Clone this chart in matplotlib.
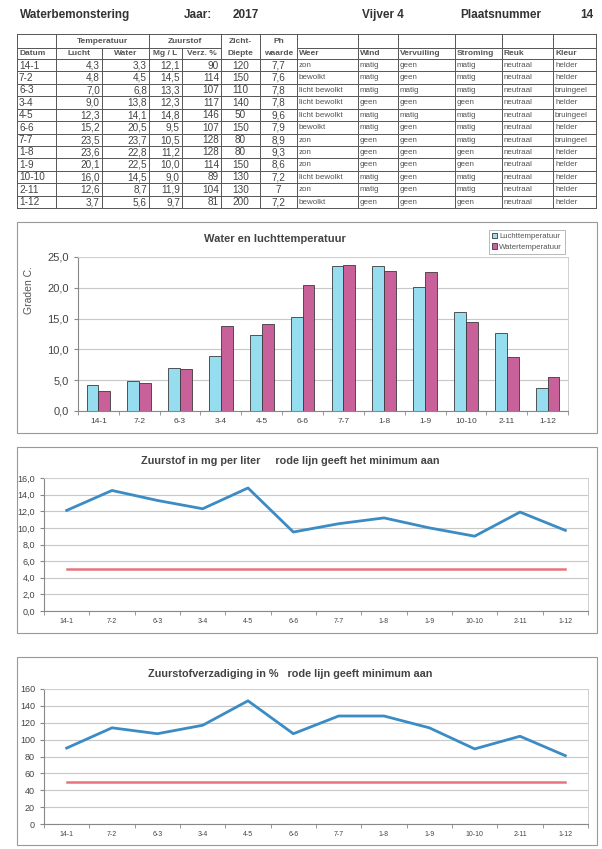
import matplotlib
matplotlib.use("Agg")
import matplotlib.pyplot as plt
from matplotlib.patches import Rectangle
from matplotlib.ticker import FuncFormatter, FixedLocator

plt.rcParams['font.family'] = ['Liberation Sans', 'DejaVu Sans']

# ---------------- data ----------------
dates = ["14-1", "7-2", "6-3", "3-4", "4-5", "6-6", "7-7", "1-8", "1-9", "10-10", "2-11", "1-12"]
lucht = [4.3, 4.8, 7.0, 9.0, 12.3, 15.2, 23.5, 23.6, 20.1, 16.0, 12.6, 3.7]
water = [3.3, 4.5, 6.8, 13.8, 14.1, 20.5, 23.7, 22.8, 22.5, 14.5, 8.7, 5.6]
mg_l = [12.1, 14.5, 13.3, 12.3, 14.8, 9.5, 10.5, 11.2, 10.0, 9.0, 11.9, 9.7]
verz = [90, 114, 107, 117, 146, 107, 128, 128, 114, 89, 104, 81]
zicht = [120, 150, 110, 140, 50, 150, 80, 80, 150, 130, 130, 200]
ph = ["7,7", "7,6", "7,8", "7,8", "9,6", "7,9", "8,9", "9,3", "8,6", "7,2", "7", "7,2"]
weer = ["zon", "bewolkt", "licht bewolkt", "licht bewolkt", "licht bewolkt", "bewolkt",
        "zon", "zon", "zon", "licht bewolkt", "zon", "bewolkt"]
wind = ["matig", "matig", "matig", "geen", "matig", "matig", "geen", "geen", "geen", "matig", "matig", "geen"]
vervuiling = ["geen", "geen", "matig", "geen", "matig", "geen", "geen", "geen", "geen", "geen", "geen", "geen"]
stroming = ["matig", "matig", "matig", "geen", "matig", "matig", "matig", "geen", "geen", "matig", "matig", "geen"]
reuk = ["neutraal"] * 12
kleur = ["helder", "helder", "bruingeel", "helder", "bruingeel", "helder", "bruingeel",
         "helder", "helder", "helder", "helder", "helder"]
min_mg = [5.0, 5.0, 5.0, 5.0, 5.0, 5.0, 5.0, 5.0, 5.0, 5.0, 5.0, 5.0]
min_verz = [50, 50, 50, 50, 50, 50, 50, 50, 50, 50, 50, 50]

# ---------------- figure ----------------
W, H = 602, 849
fig = plt.figure(figsize=(6.02, 8.49), dpi=100)
bg = fig.add_axes([0, 0, 1, 1])
bg.set_xlim(0, W)
bg.set_ylim(H, 0)
bg.axis('off')


def rect(x0, y0, x1, y1):
    return [x0 / W, 1 - y1 / H, (x1 - x0) / W, (y1 - y0) / H]


def comma(v, p=None):
    return f"{v:.1f}".replace('.', ',')


# header
hdr = [(20, "Waterbemonstering"), (184, "Jaar:"), (233, "2017"),
       (362, "Vijver 4"), (460, "Plaatsnummer"), (580, "14")]
for x, t in hdr:
    bg.text(x, 15, t, fontsize=8.5, fontweight='bold', color='#333', va='center', ha='left')

# ---------------- table ----------------
cols = [17, 56, 102, 149, 182, 221, 260, 297, 358, 398, 455, 502, 553, 596]
top, mid, hbot = 34, 48, 59
rh = 12.42
bottom = hbot + 12 * rh
lc = '#555'
lw = 0.7
bg.plot([cols[0], cols[-1]], [top, top], color=lc, lw=lw)
for xa, xb in [(cols[0], cols[5]), (cols[7], cols[-1])]:
    bg.plot([xa, xb], [mid, mid], color=lc, lw=lw)
for i in range(13):
    y = hbot + i * rh
    bg.plot([cols[0], cols[-1]], [y, y], color=lc, lw=lw)
for j, x in enumerate(cols):
    y0 = mid if j in (2, 4) else top
    bg.plot([x, x], [y0, bottom], color=lc, lw=lw)

hf = dict(fontsize=6, fontweight='bold', color='#555', va='center')
bg.text((cols[1] + cols[3]) / 2, 41, "Temperatuur", ha='center', **hf)
bg.text((cols[3] + cols[5]) / 2, 41, "Zuurstof", ha='center', **hf)
bg.text((cols[5] + cols[6]) / 2, 41, "Zicht-", ha='center', **hf)
bg.text((cols[6] + cols[7]) / 2, 41, "Ph", ha='center', **hf)
y2 = 53.5
bg.text(cols[0] + 2, y2, "Datum", ha='left', **hf)
bg.text((cols[1] + cols[2]) / 2, y2, "Lucht", ha='center', **hf)
bg.text((cols[2] + cols[3]) / 2, y2, "Water", ha='center', **hf)
bg.text((cols[3] + cols[4]) / 2, y2, "Mg / L", ha='center', **hf)
bg.text((cols[4] + cols[5]) / 2, y2, "Verz. %", ha='center', **hf)
bg.text((cols[5] + cols[6]) / 2, y2, "Diepte", ha='center', **hf)
bg.text((cols[6] + cols[7]) / 2, y2, "waarde", ha='center', **hf)
for j, t in zip(range(7, 13), ["Weer", "Wind", "Vervuiling", "Stroming", "Reuk", "Kleur"]):
    bg.text(cols[j] + 2, y2, t, ha='left', **hf)

nf = dict(fontsize=7.2, color='#444', va='center')
tf = dict(fontsize=5.8, color='#555', va='center', ha='left')
for i in range(12):
    y = hbot + (i + 0.5) * rh + 0.3
    bg.text(cols[0] + 2, y, dates[i], ha='left', **nf)
    bg.text(cols[2] - 2, y, comma(lucht[i]), ha='right', **nf)
    bg.text(cols[3] - 2, y, comma(water[i]), ha='right', **nf)
    bg.text(cols[4] - 2, y, comma(mg_l[i]), ha='right', **nf)
    bg.text(cols[5] - 2, y, str(verz[i]), ha='right', **nf)
    bg.text((cols[5] + cols[6]) / 2, y, str(zicht[i]), ha='center', **nf)
    bg.text((cols[6] + cols[7]) / 2, y, ph[i], ha='center', **nf)
    for j, arr in zip(range(7, 13), [weer, wind, vervuiling, stroming, reuk, kleur]):
        bg.text(cols[j] + 2, y, arr[i], **tf)

# chart frames
for (x0, y0, x1, y1) in [(17, 222, 597, 433), (17, 447, 597, 633), (17, 657, 597, 845)]:
    bg.add_patch(Rectangle((x0, y0), x1 - x0, y1 - y0, fill=False, edgecolor='#999', lw=0.8))

n = len(dates)
xs = list(range(n))


def style_axes(ax, xfs):
    ax.set_xlim(-0.5, n - 0.5)
    ax.set_xticks(xs)
    ax.set_xticklabels(dates, fontsize=xfs, color='#444')
    ax.xaxis.set_minor_locator(FixedLocator([k - 0.5 for k in range(n + 1)]))
    ax.tick_params(axis='x', which='major', length=0, pad=5)
    ax.tick_params(axis='x', which='minor', length=3, color='#888')
    ax.tick_params(axis='y', length=3, color='#888')
    ax.grid(axis='y', color='#c8c8c8', lw=0.8)
    ax.set_axisbelow(True)
    for s in ['top', 'right']:
        ax.spines[s].set_color('#cfcfcf')
        ax.spines[s].set_linewidth(0.7)
    for s in ['left', 'bottom']:
        ax.spines[s].set_color('#888')
        ax.spines[s].set_linewidth(0.8)


# ---------------- chart 1 ----------------
ax1 = fig.add_axes(rect(78, 257, 568, 411))
bw = 0.29
ax1.bar([x - bw / 2 for x in xs], lucht, width=bw, color='#96DDF0', edgecolor='#3a3a3a', lw=0.6,
        label='Luchttemperatuur')
ax1.bar([x + bw / 2 for x in xs], water, width=bw, color='#C8609A', edgecolor='#3a3a3a', lw=0.6,
        label='Watertemperatuur')
ax1.set_ylim(0, 25)
ax1.set_yticks([0, 5, 10, 15, 20, 25])
ax1.yaxis.set_major_formatter(FuncFormatter(comma))
style_axes(ax1, 6)
ax1.tick_params(axis='y', labelsize=8, labelcolor='#444')
bg.text(275, 239, "Water en luchttemperatuur", fontsize=8, fontweight='bold', color='#444',
        ha='center', va='center')
fig.text(29 / W, 1 - 290 / H, "Graden C.", rotation=90, fontsize=7.5, color='#555', ha='center', va='center')
leg = ax1.legend(loc='upper left', bbox_to_anchor=(485 / W, 1 - 226 / H), bbox_transform=fig.transFigure,
                 fontsize=5.6, frameon=True, fancybox=False, edgecolor='#999', handlelength=0.7,
                 handleheight=0.7, borderpad=0.4, labelspacing=0.35, handletextpad=0.2)
leg.get_frame().set_linewidth(0.6)
for t in leg.get_texts():
    t.set_color('#555')

# ---------------- chart 2 ----------------
ax2 = fig.add_axes(rect(44, 478, 588, 611))
ax2.plot(xs, mg_l, color='#3B8BC4', lw=2.0)
ax2.plot(xs, min_mg, color='#E8747C', lw=1.8)
ax2.set_ylim(0, 16)
ax2.set_yticks(list(range(0, 17, 2)))
ax2.yaxis.set_major_formatter(FuncFormatter(comma))
style_axes(ax2, 5)
ax2.tick_params(axis='y', labelsize=6.5, labelcolor='#444')
bg.text(290, 461, "Zuurstof in mg per liter     rode lijn geeft het minimum aan", fontsize=7.8,
        fontweight='bold', color='#444', ha='center', va='center')

# ---------------- chart 3 ----------------
ax3 = fig.add_axes(rect(44, 689, 588, 824))
ax3.plot(xs, verz, color='#3B8BC4', lw=2.0)
ax3.plot(xs, min_verz, color='#E8747C', lw=1.8)
ax3.set_ylim(0, 160)
ax3.set_yticks(list(range(0, 161, 20)))
style_axes(ax3, 5)
ax3.tick_params(axis='y', labelsize=6.5, labelcolor='#444')
bg.text(290, 674, "Zuurstofverzadiging in %   rode lijn geeft minimum aan", fontsize=7.8,
        fontweight='bold', color='#444', ha='center', va='center')

fig.savefig("out.png", dpi=100)
